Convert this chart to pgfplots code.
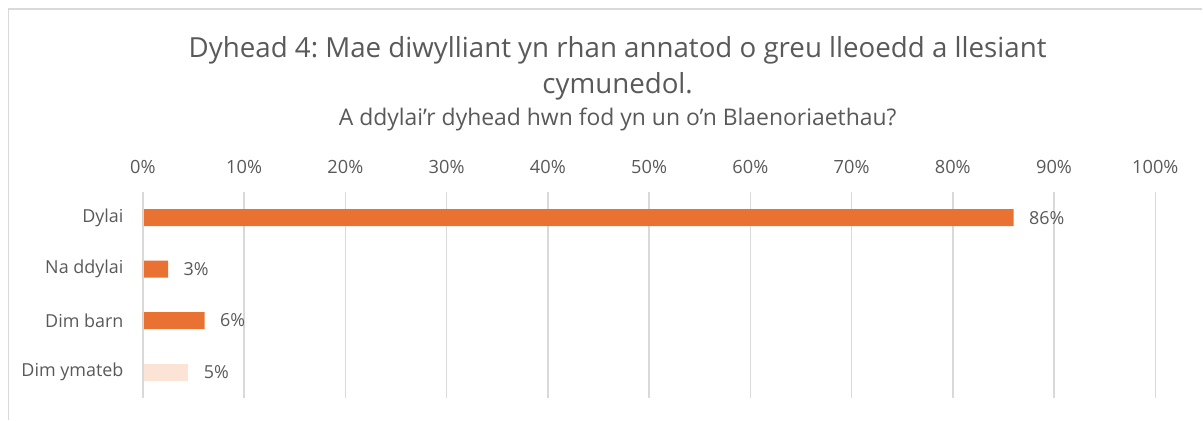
\documentclass[border=0pt]{standalone}
\usepackage{fontspec}
\setmainfont{Open Sans}
\usepackage{pgfplots}
\pgfplotsset{compat=1.18}
\definecolor{barorange}{HTML}{E97132}
\definecolor{barpeach}{HTML}{FBE3D6}
\definecolor{txt}{HTML}{595959}
\definecolor{gridc}{HTML}{D9D9D9}
\frenchspacing
\begin{document}
\begin{tikzpicture}[x=1bp,y=1bp]
\path (0,0) rectangle (1203,420);
\draw[gridc, line width=1.5bp] (8.5,0) -- (8.5,411) -- (1203,411);
\node[txt, font=\fontsize{27.8}{32}\selectfont] at (618,370) {Dyhead 4: Mae diwylliant yn rhan annatod o greu lleoedd a llesiant};
\node[txt, font=\fontsize{27.8}{32}\selectfont] at (618,334) {cymunedol.};
\node[txt, font=\fontsize{23}{27}\selectfont] at (618,300) {A ddylai’r dyhead hwn fod yn un o’n Blaenoriaethau?};
\begin{axis}[
  at={(143bp,22bp)}, anchor=south west,
  scale only axis, width=1013bp, height=206bp,
  xbar, bar width=17bp, bar shift=0pt,
  xmin=0, xmax=100, ymin=-0.5, ymax=3.5, y dir=reverse,
  xtick={0,10,...,100},
  xticklabel={\pgfmathprintnumber{\tick}\%},
  xticklabel pos=top,
  xticklabel style={txt, font=\fontsize{18.3}{21}\selectfont, yshift=15bp},
  /pgf/number format/assume math mode=true,
  ytick={0,1,2,3},
  yticklabels={Dylai, Na ddylai, Dim barn, Dim ymateb},
  yticklabel style={txt, font=\fontsize{18}{21}\selectfont, xshift=-16bp},
  major tick length=0pt,
  axis line style={draw=none},
  xmajorgrids, grid style={gridc, line width=1.5bp},
  nodes near coords,
  point meta=explicit symbolic,
  every node near coord/.append style={txt, font=\fontsize{18}{21}\selectfont, anchor=west, xshift=12bp},
]
\addplot[fill=barorange, draw=none] table[meta=lab] {
x y lab
86 0 86\%
2.5 1 3\%
6.1 2 6\%
};
\addplot[fill=barpeach, draw=none] table[meta=lab] {
x y lab
4.5 3 5\%
};
\draw[gridc, line width=1.5bp] (axis cs:0,-0.5) -- (axis cs:0,3.5);
\pgfplotsinvokeforeach{-0.5,0.5,1.5,2.5,3.5}{
  \draw[gridc, line width=1.5bp] (axis cs:0,#1) -- ++(-5bp,0);
}
\end{axis}
\end{tikzpicture}
\end{document}
